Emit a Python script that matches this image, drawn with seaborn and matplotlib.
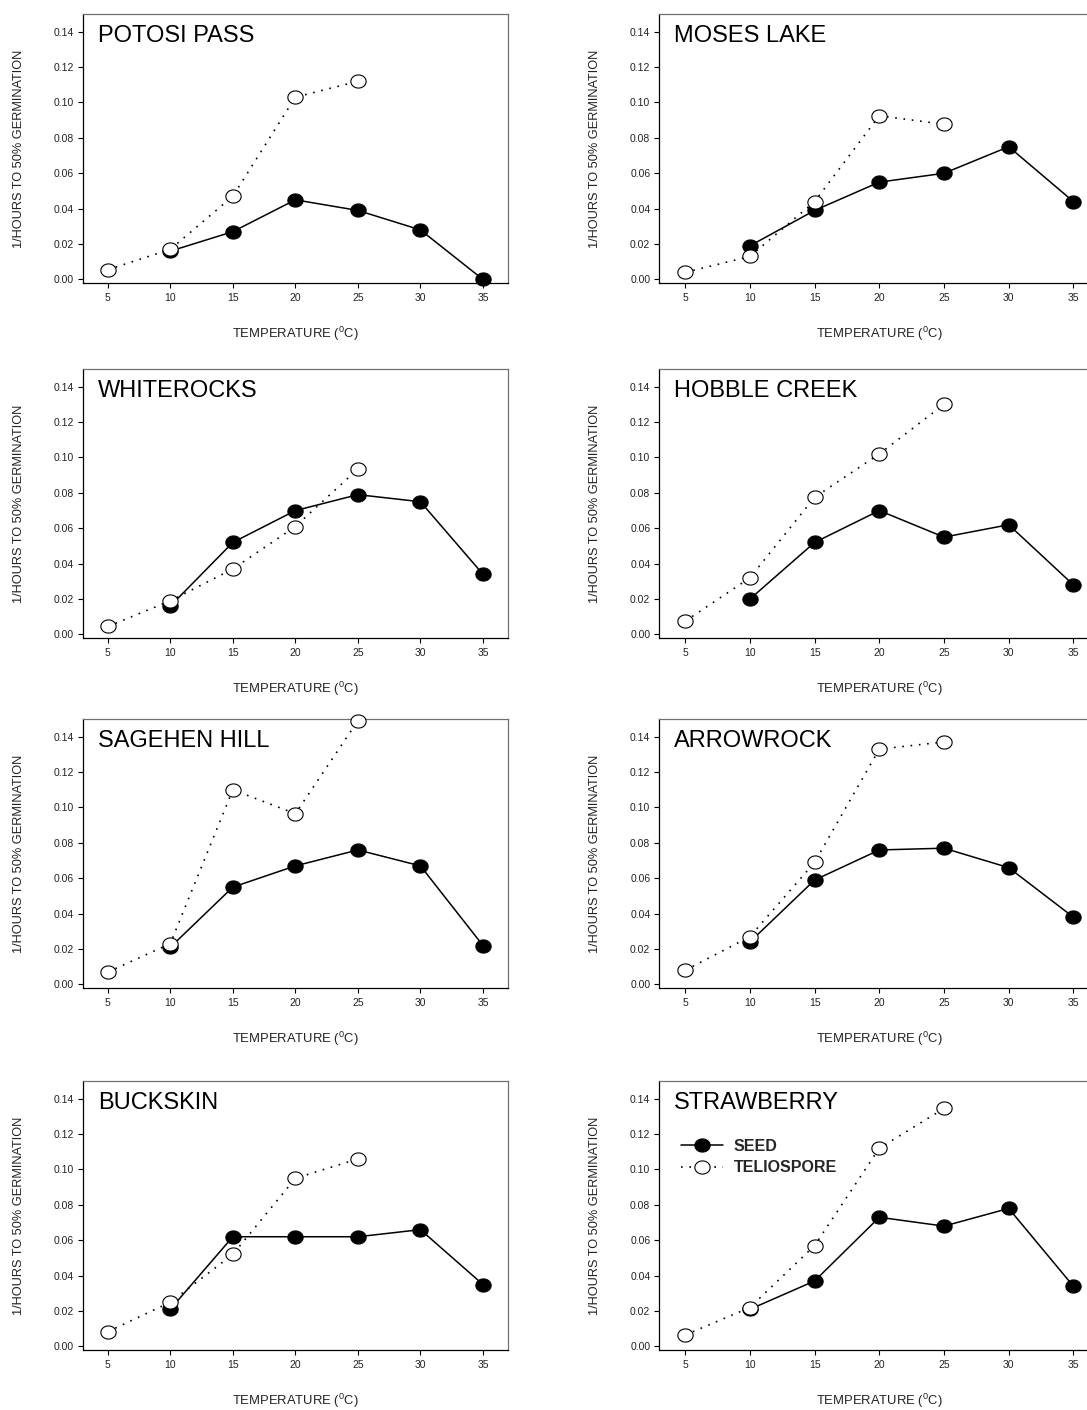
import matplotlib
matplotlib.use("Agg")
import matplotlib.pyplot as plt
from matplotlib.path import Path
import numpy as np
import pandas as pd
import seaborn as sns

# temperatures (deg C)
temps_seed = [10, 15, 20, 25, 30, 35]
temps_telio = [5, 10, 15, 20, 25]

sites = ["POTOSI PASS", "MOSES LAKE", "WHITEROCKS", "HOBBLE CREEK",
         "SAGEHEN HILL", "ARROWROCK", "BUCKSKIN", "STRAWBERRY"]

# 1/hours to 50% germination
potosi_seed = [0.016, 0.027, 0.045, 0.039, 0.028, 0.000]
potosi_telio = [0.0055, 0.017, 0.047, 0.103, 0.112]
moses_seed = [0.019, 0.039, 0.055, 0.060, 0.075, 0.044]
moses_telio = [0.004, 0.013, 0.044, 0.0925, 0.0877]
whiterocks_seed = [0.016, 0.052, 0.070, 0.079, 0.075, 0.034]
whiterocks_telio = [0.0045, 0.019, 0.037, 0.061, 0.0935]
hobble_seed = [0.020, 0.052, 0.070, 0.055, 0.062, 0.028]
hobble_telio = [0.0075, 0.032, 0.0775, 0.102, 0.130]
sagehen_seed = [0.021, 0.055, 0.067, 0.076, 0.067, 0.022]
sagehen_telio = [0.007, 0.023, 0.110, 0.0965, 0.149]
arrowrock_seed = [0.024, 0.059, 0.076, 0.077, 0.066, 0.038]
arrowrock_telio = [0.008, 0.027, 0.069, 0.133, 0.137]
buckskin_seed = [0.021, 0.062, 0.062, 0.062, 0.066, 0.035]
buckskin_telio = [0.0083, 0.025, 0.052, 0.095, 0.106]
strawberry_seed = [0.021, 0.037, 0.073, 0.068, 0.078, 0.034]
strawberry_telio = [0.0065, 0.022, 0.057, 0.112, 0.1345]

seed_sets = [potosi_seed, moses_seed, whiterocks_seed, hobble_seed,
             sagehen_seed, arrowrock_seed, buckskin_seed, strawberry_seed]
telio_sets = [potosi_telio, moses_telio, whiterocks_telio, hobble_telio,
              sagehen_telio, arrowrock_telio, buckskin_telio, strawberry_telio]

y_ticks = [0.00, 0.02, 0.04, 0.06, 0.08, 0.10, 0.12, 0.14]
x_ticks = [5, 10, 15, 20, 25, 30, 35]

sns.set_style("ticks")
plt.rcParams['font.family'] = ['Liberation Sans', 'DejaVu Sans']
plt.rcParams['mathtext.fontset'] = 'custom'
plt.rcParams['mathtext.rm'] = 'Liberation Sans'

W, H = 1087, 1410
fig = plt.figure(figsize=(W / 100, H / 100), dpi=100)

# slightly wide ellipse marker, like the original
theta = np.linspace(0, 2 * np.pi, 64)
ell = Path(np.column_stack([np.cos(theta), 0.86 * np.sin(theta)]), closed=True)

col_left = [82.7, 659.3]
col_width = [425.3, 440.0]
row_top = [14, 369, 719, 1081]
row_h = 269

for i, site in enumerate(sites):
    r, c = divmod(i, 2)
    l = col_left[c] / W
    b = 1 - (row_top[r] + row_h) / H
    ax = fig.add_axes([l, b, col_width[c] / W, row_h / H])

    seed_df = pd.DataFrame({"temp": temps_seed, "rate": seed_sets[i]})
    telio_df = pd.DataFrame({"temp": temps_telio, "rate": telio_sets[i]})

    sns.lineplot(data=seed_df, x="temp", y="rate", ax=ax, color="black",
                 lw=1.1, marker=ell, markersize=11, mfc="black", mec="black",
                 mew=0.8, label="SEED", legend=False, clip_on=False, zorder=3)
    sns.lineplot(data=telio_df, x="temp", y="rate", ax=ax, color="black",
                 lw=1.2, linestyle=(0, (1, 4)), marker=ell, markersize=11,
                 mfc="white", mec="black", mew=0.8, label="TELIOSPORE",
                 legend=False, clip_on=False, zorder=4)

    ax.set_xlim(3, 37)
    ax.set_ylim(-0.002, 0.150)
    ax.set_xticks(x_ticks)
    ax.set_yticks(y_ticks)
    ax.set_yticklabels([f"{v:.2f}" for v in y_ticks])
    ax.tick_params(axis="both", direction="out", length=3.5, width=0.8,
                   labelsize=7.5, color="black", labelcolor="#222222")
    ax.tick_params(axis="x", pad=4)
    ax.tick_params(axis="y", pad=3)

    for s in ["left", "bottom"]:
        ax.spines[s].set_color("black")
        ax.spines[s].set_linewidth(0.9)
    for s in ["top", "right"]:
        ax.spines[s].set_visible(True)
        ax.spines[s].set_color("#707070")
        ax.spines[s].set_linewidth(0.9)

    ax.set_xlabel(r"TEMPERATURE ($\mathregular{^0}$C)", fontsize=9.4, color="#222222")
    ax.set_ylabel("1/HOURS TO 50% GERMINATION", fontsize=9.2, color="#222222")
    ax.xaxis.set_label_coords(0.5, -42 / row_h)
    ax.yaxis.set_label_coords(-58 / col_width[c], 0.5)

    ax.text(15 / col_width[c], 1 - 22 / row_h, site, transform=ax.transAxes,
            fontsize=17, ha="left", va="center", color="black")

    if site == "STRAWBERRY":
        ax.legend(loc="upper left", bbox_to_anchor=(22 / col_width[c], 1 - 58 / row_h),
                  frameon=False, borderpad=0, borderaxespad=0, handlelength=2.6,
                  handletextpad=0.7, labelspacing=0.4,
                  prop={"weight": "bold", "size": 11.5})

fig.savefig("out.png", dpi=100)
plt.close(fig)
